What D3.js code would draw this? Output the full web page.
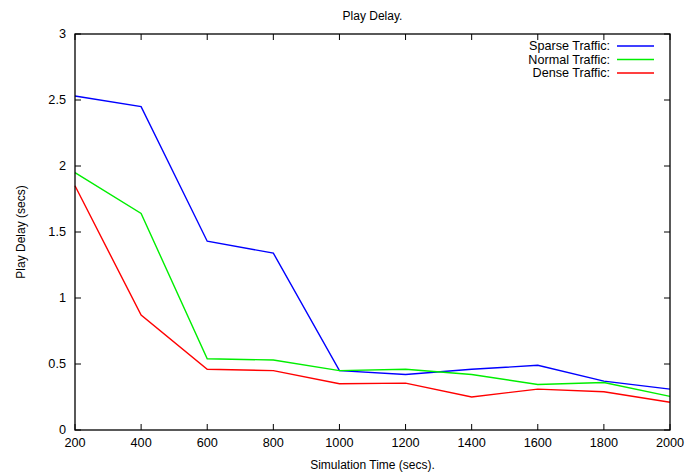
<!DOCTYPE html>
<html>
<head>
<meta charset="utf-8">
<script src="https://cdn.jsdelivr.net/npm/d3@7"></script>
<style>
  body { margin: 0; background: #fff; }
  text { font-family: "Liberation Sans", Arial, sans-serif; font-size: 12px; fill: #000; }
  .tick-label { font-size: 12.7px; }
</style>
</head>
<body>
<div id="chart"></div>
<script>
const times = [200, 400, 600, 800, 1000, 1200, 1400, 1600, 1800, 2000];
const sparse = [2.53, 2.45, 1.43, 1.34, 0.45, 0.42, 0.46, 0.49, 0.37, 0.31];
const normal = [1.95, 1.64, 0.54, 0.53, 0.45, 0.46, 0.42, 0.345, 0.36, 0.255];
const dense = [1.85, 0.87, 0.46, 0.45, 0.35, 0.355, 0.25, 0.31, 0.29, 0.21];
const seriesNames = ["Sparse Traffic:", "Normal Traffic:", "Dense Traffic:"];
const seriesColors = ["#0000ff", "#00ee00", "#ff0000"];
const yTicks = [0, 0.5, 1, 1.5, 2, 2.5, 3];

const width = 686, height = 474;
const margin = {left: 75, right: 16, top: 34, bottom: 44};

const svg = d3.select("#chart").append("svg")
    .attr("width", width).attr("height", height);

const x = d3.scaleLinear().domain([200, 2000]).range([margin.left, width - margin.right]);
const y = d3.scaleLinear().domain([0, 3]).range([height - margin.bottom, margin.top]);

const tickLen = 6;
const g = svg.append("g");

// ticks on all four sides, pointing inward
x.ticks(9).forEach(function (t) {
    g.append("line").attr("x1", x(t)).attr("x2", x(t))
        .attr("y1", y(0)).attr("y2", y(0) - tickLen).attr("stroke", "#000");
    g.append("line").attr("x1", x(t)).attr("x2", x(t))
        .attr("y1", y(3)).attr("y2", y(3) + tickLen).attr("stroke", "#000");
    g.append("text").attr("class", "tick-label").attr("x", x(t)).attr("y", y(0) + 17)
        .attr("text-anchor", "middle").text(t);
});
yTicks.forEach(function (t) {
    g.append("line").attr("x1", x(200)).attr("x2", x(200) + tickLen)
        .attr("y1", y(t)).attr("y2", y(t)).attr("stroke", "#000");
    g.append("line").attr("x1", x(2000)).attr("x2", x(2000) - tickLen)
        .attr("y1", y(t)).attr("y2", y(t)).attr("stroke", "#000");
    g.append("text").attr("class", "tick-label").attr("x", x(200) - 9).attr("y", y(t) + 4)
        .attr("text-anchor", "end").text(t);
});

// lines
const line = d3.line()
    .x(function (d, i) { return x(times[i]); })
    .y(function (d) { return y(d); });
[sparse, normal, dense].forEach(function (s, i) {
    svg.append("path").attr("d", line(s))
        .attr("fill", "none").attr("stroke", seriesColors[i])
        .attr("stroke-width", 1.4);
});

// frame
svg.append("rect")
    .attr("x", x(200)).attr("y", y(3))
    .attr("width", x(2000) - x(200)).attr("height", y(0) - y(3))
    .attr("fill", "none").attr("stroke", "#000").attr("stroke-width", 1.3);

// legend
seriesNames.forEach(function (name, i) {
    const ly = 46 + i * 13.5;
    svg.append("text").attr("x", 610).attr("y", ly + 4)
        .attr("text-anchor", "end").style("font-size", "12.6px").text(name);
    svg.append("line").attr("x1", 617).attr("x2", 654)
        .attr("y1", ly).attr("y2", ly)
        .attr("stroke", seriesColors[i]).attr("stroke-width", 1.4);
});

// titles
svg.append("text").attr("x", (x(200) + x(2000)) / 2).attr("y", 20)
    .attr("text-anchor", "middle").text("Play Delay.");
svg.append("text").attr("x", (x(200) + x(2000)) / 2).attr("y", 469)
    .attr("text-anchor", "middle").text("Simulation Time (secs).");
svg.append("text")
    .attr("transform", "translate(25," + ((y(0) + y(3)) / 2) + ") rotate(-90)")
    .attr("text-anchor", "middle").text("Play Delay (secs)");
</script>
</body>
</html>
